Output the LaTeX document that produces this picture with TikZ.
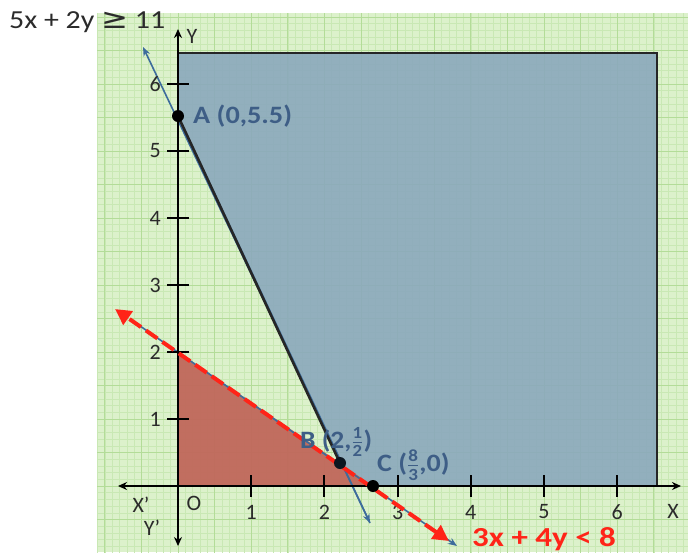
\documentclass[tikz,border=0pt]{standalone}
\usepackage{fontspec}
\setmainfont{Carlito}
\newfontfamily\symfont{DejaVu Sans}
\usetikzlibrary{arrows.meta}
\definecolor{paper}{HTML}{DCF1CB}
\definecolor{gridminor}{HTML}{C9E8B4}
\definecolor{gridmajor}{HTML}{B3DC98}
\definecolor{regionblue}{HTML}{8AA8BC}
\definecolor{regionred}{HTML}{C0685B}
\definecolor{lblblue}{HTML}{3E5E86}
\definecolor{lineblue}{HTML}{3D6C9C}
\definecolor{brightred}{HTML}{FF2418}
\definecolor{ink}{HTML}{2B2B2B}
\newcommand\fr[2]{\ensuremath{\frac{\mbox{\fontsize{17}{17}\selectfont#1}}{\mbox{\fontsize{17}{17}\selectfont#2}}}}
\newcommand\wide[2]{\scalebox{#1}[1]{#2}}
\tikzset{
  minorgrid/.style={gridminor,line width=0.5pt},
  majorgrid/.style={gridmajor,line width=1pt},
  axis/.style={black,line width=2pt},
  border/.style={black!85,line width=2.6pt},
  thinblue/.style={lineblue,line width=1.6pt,-{Stealth[length=9pt,width=7pt]}},
  redline/.style={brightred,line width=4pt,dash pattern=on 14pt off 6pt,{Triangle[length=16pt,width=16pt]}-{Triangle[length=16pt,width=16pt]}},
  dot/.style={circle,fill=black,inner sep=0pt,minimum size=12pt},
  lbl/.style={lblblue,font=\fontsize{25}{25}\selectfont\bfseries,inner sep=0pt},
  ticklbl/.style={ink,font=\fontsize{22}{22}\selectfont,inner sep=0pt},
  eqn/.style={ink,font=\fontsize{26}{26}\selectfont,inner sep=0pt},
}
\begin{document}
\begin{tikzpicture}[x=1pt,y=-1pt]
\useasboundingbox (0,0) rectangle (688,552);
\fill[white] (0,0) rectangle (688,552);
\fill[paper] (97,13) rectangle (688,552);
\begin{scope}
  \clip (97,13) rectangle (688,552);
  \begin{scope}[shift={(178,486)},x=73.2pt,y=67pt]
    \foreach \i in {-12,...,70} \draw[minorgrid] (\i/10,-1.1) -- (\i/10,7.2);
    \foreach \i in {-10,...,72} \draw[minorgrid] (-1.2,\i/10) -- (7.1,\i/10);
    \foreach \i in {-2,...,14} \draw[majorgrid] (\i/2,-1.1) -- (\i/2,7.2);
    \foreach \i in {-2,...,14} \draw[majorgrid] (-1.2,\i/2) -- (7.1,\i/2);
  \end{scope}
\end{scope}

% key points
\coordinate (O) at (178,486);
\coordinate (Y2) at (178,352);
\coordinate (TL) at (178,53);
\coordinate (TR) at (657,53);
\coordinate (BR) at (657,486);
\coordinate (Ap) at (178,116);
\coordinate (Bp) at (340,463);
\coordinate (Cp) at (373,486);

% regions
\fill[regionblue,fill opacity=0.9] (Ap) -- (TL) -- (TR) -- (BR) -- (Cp) -- (Bp) -- cycle;
\fill[regionred,fill opacity=0.95] (O) -- (Y2) -- (Bp) -- (Cp) -- cycle;

% thin blue lines
\coordinate (b1s) at (370,523);
\coordinate (b1e) at (143,47);
\draw[thinblue] (b1s) -- (b1e);
\draw[thinblue] (Ap) -- (b1s);
\coordinate (b2s) at (130,319);
\coordinate (b2e) at (457,546);
\draw[thinblue] (b2s) -- (b2e);

% borders
\draw[border] (TL) -- (TR) -- (BR);
\draw[border] (Ap) -- (Bp);

% axes
\coordinate (xl) at (118,486);
\coordinate (xr) at (681,486);
\coordinate (yb) at (178,546);
\coordinate (yt) at (178,29);
\draw[axis,{Stealth[length=9pt,width=8pt]}-{Stealth[length=9pt,width=8pt]}] (xl) -- (xr);
\draw[axis,{Stealth[length=9pt,width=8pt]}-{Stealth[length=9pt,width=8pt]}] (yb) -- (yt);

% ticks and labels
\foreach \k in {1,...,6} {
  \draw[axis] (178+73.2*\k,475) -- (178+73.2*\k,497);
  \node[ticklbl] (tx\k) at (178+73.2*\k,512) {\k};
  \draw[axis] (167,486-67*\k) -- (189,486-67*\k);
  \node[ticklbl,anchor=east] (ty\k) at (161,486-67*\k) {\k};
}
\node[ticklbl] (lXp) at (141,505) {X’};
\node[ticklbl] (lO) at (194,503) {O};
\node[ticklbl] (lYp) at (152,528) {Y’};
\node[ticklbl] (lX) at (673,511) {X};
\node[ticklbl] (lY) at (192,36) {Y};

% red dashed line
\coordinate (r1) at (115,309);
\coordinate (r2) at (449,541);
\draw[redline] (r2) -- (r1);

% points
\node[dot] (A) at (Ap) {};
\node[dot,fill=black!80!lineblue] (B) at (Bp) {};
\node[dot] (C) at (Cp) {};

\node[lbl,anchor=west] (lA) at (193,116) {\wide{1.13}{A (0,5.5)}};
\node[lbl,anchor=west] (lB) at (300,442) {\wide{1.1}{B (2,\fr{1}{2})}};
\node[lbl,anchor=west] (lC) at (377,465) {\wide{1.12}{C (\fr{8}{3},0)}};

\node[eqn,anchor=west] (e1) at (9,22) {\wide{1.15}{5x + 2y {\symfont\fontsize{28}{28}\selectfont≥} 11}};
\node[brightred,font=\fontsize{27.5}{27.5}\selectfont\bfseries,inner sep=0pt,anchor=base west] (e2) at (472,546) {\wide{1.2}{3x + 4y < 8}};
\end{tikzpicture}
\end{document}
